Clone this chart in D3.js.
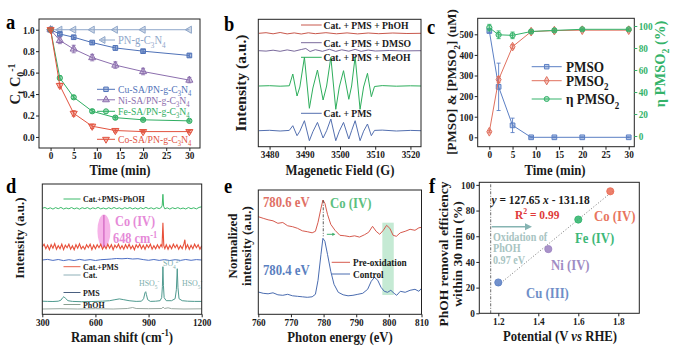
<!DOCTYPE html>
<html><head><meta charset="utf-8">
<script src="https://cdn.jsdelivr.net/npm/d3@7"></script>
<style>body{margin:0;background:#fff}svg{display:block}
svg text{font-family:"Liberation Serif","Times New Roman",Times,serif !important;}</style>
</head><body><svg id="c" width="674" height="355"></svg>
<script>
// ---------------- DATA ----------------
// (a) degradation kinetics
const timeA = [0, 2, 5, 9, 14, 20, 30];
const pnC3N4 = [1.00, 1.00, 1.00, 1.00, 1.00, 1.00, 1.00];
const cuSA = [1.00, 0.96, 0.93, 0.88, 0.83, 0.80, 0.76];
const cuErr = [0.01, 0.015, 0.015, 0.015, 0.02, 0.015, 0.015];
const niSA = [1.00, 0.90, 0.82, 0.74, 0.67, 0.61, 0.53];
const niErr = [0.01, 0.03, 0.035, 0.03, 0.03, 0.03, 0.025];
const feSA = [1.00, 0.55, 0.37, 0.24, 0.18, 0.16, 0.15];
const feErr = [0.01, 0.02, 0.015, 0.015, 0.015, 0.01, 0.01];
const coSA = [1.00, 0.48, 0.22, 0.10, 0.06, 0.05, 0.05];
const coErr = [0.01, 0.02, 0.025, 0.02, 0.015, 0.01, 0.01];
const ticksA_x = [0, 5, 10, 15, 20, 25, 30];
const ticksA_y = [0.0, 0.2, 0.4, 0.6, 0.8, 1.0];

// (b) EPR spectra [field G, relative intensity]
const eprPhOH = [[3477,0],[3479,0.6],[3481,-0.5],[3483,0.8],[3485,-0.6],[3487,0.4],[3489,-0.7],[3491,0.5],[3493,-0.4],[3496,0.6],[3499,-0.5],[3502,0.4],[3505,-0.6],[3508,0.3],[3511,-0.4],[3515,0.3],[3519,-0.2],[3523,0]];
const eprDMSO = [[3477,0],[3479,-0.4],[3481,0.5],[3483,-0.6],[3485,0.8],[3487,-0.5],[3489,1.2],[3490.3,2.2],[3491.5,-0.8],[3493,1],[3495,-0.6],[3497,1.4],[3498.8,-0.7],[3500.5,0.9],[3502.5,-0.5],[3504.3,1.3],[3506,-0.6],[3508,0.6],[3510,-0.3],[3514,0.2],[3518,-0.2],[3523,0]];
const eprMeOH = [[3477,0],[3480,0.3],[3483,-0.2],[3485.6,0.2],[3486.6,12],[3487.8,-10],[3488.6,-1],[3489.9,28.7],[3491.3,-22.3],[3492.3,-2],[3493.6,16],[3495.2,-14],[3496.2,0],[3497.4,28.7],[3498.8,-23.3],[3499.8,-1],[3501.0,15.3],[3502.5,-13.3],[3503.3,0],[3504.3,29.3],[3505.7,-23.3],[3506.7,-1],[3507.8,12.7],[3508.9,-10.7],[3509.8,-0.5],[3512,0.4],[3516,-0.2],[3520,0.2],[3523,0]];
const eprCatPMS = [[3477,0],[3480,0.4],[3483,-0.3],[3485.6,0.3],[3486.6,5],[3487.8,-5],[3488.6,-0.5],[3489.9,10],[3491.3,-10],[3492.3,-1],[3493.6,8.3],[3495.2,-7.3],[3496.2,0],[3497.4,11.7],[3498.8,-10],[3499.8,-0.5],[3501.0,8.3],[3502.5,-8.3],[3503.3,0],[3504.3,10],[3505.7,-10],[3506.7,-0.5],[3507.8,6.7],[3508.9,-5],[3509.8,0.3],[3512,0.6],[3516,-0.3],[3520,0.3],[3523,0]];
const ticksB_x = [3480, 3490, 3500, 3510, 3520];

// (c) PMSO oxidation
const timeC = [0, 2, 5, 9, 14, 20, 30];
const pmso = [516, 245, 58, 0, 0, 0, 0];
const pmsoErr = [8, 115, 35, 3, 2, 2, 2];
const pmso2 = [27, 280, 440, 513, 518, 520, 520];
const pmso2Err = [5, 15, 10, 5, 4, 4, 4];
const etaPmso2 = [98.5, 92, 91.5, 95, 96, 97, 97];
const etaErr = [3, 3.5, 3, 1.5, 1.5, 1, 1];
const ticksC_x = [0, 5, 10, 15, 20, 25, 30];
const ticksC_yL = [0, 100, 200, 300, 400, 500];
const ticksC_yR = [0, 20, 40, 60, 80, 100];

// (d) Raman spectra [shift cm-1, relative intensity]
const ramanPhOHrun = [[300,0],[315,0.8],[330,-0.6],[345,0.5],[360,-0.8],[375,0.7],[390,-0.4],[405,0.9],[420,-0.7],[435,0.3],[450,-0.5],[465,0.8],[480,-0.6],[495,0.4],[510,-0.9],[525,0.6],[540,-0.3],[555,0.7],[570,-0.8],[585,0.5],[600,-0.4],[615,0.9],[630,-0.6],[645,0.3],[660,-0.7],[675,0.6],[690,-0.5],[705,0.8],[720,-0.4],[735,0.5],[750,-0.8],[765,0.6],[780,-0.3],[795,0.7],[810,-0.6],[825,0.4],[840,-0.8],[855,0.6],[870,-0.5],[885,0.9],[900,-0.4],[915,0.5],[930,-0.7],[945,0.6],[960,-0.3],[972,0.8],[977,3],[981,14],[985,2],[992,-0.6],[1005,0.5],[1020,-0.8],[1035,0.6],[1050,-0.4],[1065,0.7],[1080,-0.5],[1095,0.3],[1110,-0.7],[1125,0.8],[1140,-0.4],[1155,0.5],[1170,-0.6],[1185,0.9],[1200,1.5]];
const ramanCatPMS = [[300,0],[310,2.5],[320,-2],[330,1.5],[340,-3],[350,2],[360,-1.5],[370,3],[380,-2.5],[390,1],[400,-2],[410,2.5],[420,-3],[430,1.5],[440,-1],[450,2.5],[460,-2.5],[470,1],[480,-3],[490,2],[500,-1.5],[510,3],[520,-2],[530,0.5],[540,-2.5],[550,2],[560,-1],[570,2.5],[580,-3],[590,1.5],[600,-2],[610,2],[620,-1],[630,2.5],[640,-2.5],[650,1],[660,-2],[670,2.5],[680,-1.5],[690,2],[700,-3],[710,1.5],[720,-1],[730,2.5],[740,-2],[750,1],[760,-2.5],[770,2],[780,-1.5],[790,2.5],[800,-2],[810,1],[820,-3],[830,2],[840,-1],[850,2.5],[860,-2],[870,1.5],[880,-2.5],[890,2],[900,-1],[910,2.5],[920,-2.5],[930,1],[940,-2],[950,2],[960,-1.5],[970,2],[976,0],[981,24],[986,1],[992,-2],[1000,2],[1010,-2.5],[1020,1.5],[1030,-2],[1040,2.5],[1050,-1],[1060,2],[1070,-2.5],[1080,1],[1090,-2],[1100,3],[1105,7],[1110,-2],[1120,2],[1130,-2.5],[1140,1.5],[1150,-2],[1160,2.5],[1170,-1],[1180,2],[1190,-2.5],[1200,1]];
const ramanCat = [[300,0],[330,0.6],[360,-0.4],[390,0.5],[420,-0.6],[450,0.3],[480,-0.5],[510,0.6],[540,-0.3],[570,0.4],[600,-0.5],[630,0.3],[660,0.6],[690,1],[720,1.5],[750,1.2],[780,1.6],[810,1],[840,1.3],[870,0.4],[900,-0.3],[930,0.5],[960,-0.4],[990,0.4],[1020,-0.5],[1050,0.3],[1080,-0.4],[1110,0.5],[1140,-0.3],[1170,0.4],[1200,0]];
const ramanPMS = [[300,0.5],[330,0.3],[360,0.2],[390,0.5],[405,1.5],[415,4],[422,5],[430,3.5],[445,1],[470,0.3],[520,0],[580,0.2],[640,0.5],[680,1],[710,2],[735,2.8],[760,2],[790,1],[830,0.3],[860,0.5],[872,3],[880,9],[884,10],[888,7],[895,2],[910,0.3],[940,0.5],[965,1],[974,4],[978,15],[981,35],[984,16],[988,4],[1000,1],[1030,1],[1050,3],[1057,12],[1062,33],[1066,14],[1072,3],[1090,1],[1120,0.5],[1160,0.3],[1200,0.3]];
const ramanPhOH = [[300,0],[400,0.3],[500,0],[600,0.3],[700,0],[780,0.5],[810,1.5],[830,0.5],[900,0.3],[975,0.5],[982,2],[990,0.5],[1010,1.2],[1030,0.3],[1100,0],[1200,0.2]];
const ticksD_x = [300, 600, 900, 1200];

// (e) XAS L-edge [photon energy eV, normalized intensity]
const xasPre = [[760,97.6],[761.5,96],[763,94.5],[764.5,93.5],[766,91],[767.5,91.8],[769,88.5],[770.5,87.6],[772,86],[773.5,83.5],[775,82.6],[776.5,81.5],[777.5,83],[778.3,92],[779.2,106],[779.8,114.3],[780.4,111],[781.2,100],[782.2,90],[783.5,84],[785,79],[786.5,78.5],[788,77.6],[789.5,78.5],[791,77.2],[792.5,79.5],[793.8,82],[795,88],[796.1,83],[797.2,80],[798.3,84],[799.3,89],[800.3,86],[801.3,79],[802.3,78],[803.5,81.5],[805,83],[806.5,85],[808,84],[809.2,86.5],[810,87]];
const xasControl = [[760,22.3],[761.5,21],[763,20.5],[764.5,21.5],[766,19.5],[767.5,19],[769,20],[770.5,18.5],[772,18],[773.5,17.5],[775,17],[776.5,17.5],[777.5,20],[778.3,34],[779.2,60],[779.8,76],[780.4,73],[781.2,60],[782.2,43],[783.2,30],[784.5,22],[786,19.5],[787.5,18.5],[789,19],[790.5,20],[792,21],[793.5,25],[794.6,33],[795.6,37],[796.6,34],[797.6,27],[798.6,23],[799.6,22],[800.6,24],[801.6,21],[802.4,19],[803.5,23],[805,22],[806.5,24],[808,25],[809.2,23],[810,26]];
const ticksE_x = [760, 770, 780, 790, 800, 810];

// (f) removal efficiency vs potential
const metalLabels = ["Cu (III)", "Ni (IV)", "Fe (IV)", "Co (IV)"];
const potential = [1.20, 1.45, 1.60, 1.76];
const removal = [24, 50, 73, 95];
const fitSlope = 127.65, fitIntercept = -131.18;
const phohOxPotential = 1.162;
const ticksF_x = [1.2, 1.4, 1.6, 1.8];
const ticksF_y = [0, 20, 40, 60, 80, 100];

// ---------------- HELPERS ----------------
const FONT = '"Liberation Serif","Times New Roman",Times,serif';
const SX = 0.88; // horizontal squeeze of the reference lettering
const svg = d3.select("#c");
const INK = "#1a1a1a";

function rich(g, x, y, segs, o = {}) {
  const size = o.size || 12;
  const t = g.append("text").attr("x", 0).attr("y", 0)
    .style("font-family", FONT).attr("font-size", size)
    .attr("font-weight", o.weight || "bold")
    .attr("fill", o.color || INK).attr("text-anchor", o.anchor || "start");
  if (o.rotate) t.attr("transform", `translate(${x},${y}) rotate(${o.rotate})`);
  else t.attr("transform", `translate(${x},${y}) scale(${o.sx || SX},1)`);
  let shift = 0;
  segs.forEach(s => {
    const [str, kind, st] = typeof s === "string" ? [s, "", ""] : s;
    const target = kind === "sub" ? size * 0.3 : kind === "sup" ? -size * 0.38 : 0;
    const ts = t.append("tspan").text(str);
    if (target - shift !== 0) ts.attr("dy", target - shift);
    if (kind) ts.attr("font-size", size * 0.68);
    if (st) ts.attr("font-style", st);
    shift = target;
  });
  return t;
}

function frame(P) {
  svg.append("rect").attr("x", P.l).attr("y", P.t).attr("width", P.r - P.l).attr("height", P.b - P.t)
    .attr("fill", "none").attr("stroke", "#222").attr("stroke-width", 1);
}
function styleAxis(ax, color) {
  ax.attr("font-family", null);
  ax.select(".domain").remove();
  ax.selectAll("line").attr("stroke", color || "#222");
  ax.selectAll("text").style("font-family", FONT).attr("font-weight", "bold")
    .attr("font-size", 10.5).attr("fill", color || INK).attr("transform", `scale(${SX},1)`);
}
function xAxis(P, x, ticks, fmt) {
  const ax = svg.append("g").attr("transform", `translate(0,${P.b})`)
    .call(d3.axisBottom(x).tickValues(ticks).tickFormat(fmt || d3.format("")).tickSize(3).tickPadding(1));
  styleAxis(ax);
}
function yAxis(P, y, ticks, fmt) {
  const ax = svg.append("g").attr("transform", `translate(${P.l},0)`)
    .call(d3.axisLeft(y).tickValues(ticks).tickFormat(fmt || d3.format("")).tickSize(3).tickPadding(2));
  styleAxis(ax);
}
function letter(x, y, s) {
  rich(svg, x, y, [s], {size: 21, color: "#000"});
}
function marker(g, cx, cy, type, color, size, rot) {
  g.append("path").attr("d", d3.symbol().type(type).size(size || 22)())
    .attr("transform", `translate(${cx},${cy}) rotate(${rot || 0})`)
    .attr("fill", color).attr("fill-opacity", 0.4).attr("stroke", color).attr("stroke-width", 1);
}
function errBar(g, x, y1, y2, color) {
  g.append("line").attr("x1", x).attr("x2", x).attr("y1", y1).attr("y2", y2).attr("stroke", color).attr("stroke-width", 0.9);
  [y1, y2].forEach(yy => g.append("line").attr("x1", x - 2).attr("x2", x + 2).attr("y1", yy).attr("y2", yy).attr("stroke", color).attr("stroke-width", 0.9));
}

// ---------------- PANEL A ----------------
{
  const P = {l: 39, r: 200, t: 19, b: 148};
  const x = d3.scaleLinear().domain([-2.5, 32.3]).range([P.l, P.r]);
  const y = d3.scaleLinear().domain([-0.103, 1.10]).range([P.b, P.t]);
  const g = svg.append("g");
  const series = [
    {v: pnC3N4, e: null, c: "#8ea6c9", sym: d3.symbolTriangle, rot: -90},
    {v: cuSA, e: cuErr, c: "#4f72b8", sym: d3.symbolSquare, rot: 0},
    {v: niSA, e: niErr, c: "#8c6fae", sym: d3.symbolTriangle, rot: 0},
    {v: feSA, e: feErr, c: "#2fae62", sym: d3.symbolCircle, rot: 0},
    {v: coSA, e: coErr, c: "#e2533f", sym: d3.symbolTriangle, rot: 180}
  ];
  const line = d3.line().x((d, i) => x(timeA[i])).y(d => y(d));
  series.forEach(s => {
    g.append("path").attr("d", line(s.v)).attr("fill", "none").attr("stroke", s.c).attr("stroke-width", 1);
    if (s.e) s.v.forEach((d, i) => errBar(g, x(timeA[i]), y(d + s.e[i]), y(d - s.e[i]), s.c));
    s.v.forEach((d, i) => marker(g, x(timeA[i]), y(d), s.sym, s.c, 22, s.rot));
  });
  frame(P);
  xAxis(P, x, ticksA_x);
  yAxis(P, y, ticksA_y, d3.format(".1f"));
  const pc = series[0].c;
  g.append("line").attr("x1", 101).attr("x2", 115).attr("y1", 40).attr("y2", 40).attr("stroke", pc).attr("stroke-width", 1);
  marker(g, 103, 40, d3.symbolTriangle, pc, 20, -90);
  rich(g, 118, 44, ["PN-g-C", ["3", "sub"], "N", ["4", "sub"]], {size: 12, weight: "normal", color: pc});
  const leg = [
    [1, 89.3, "Cu-SA/PN-g-C"], [2, 99.8, "Ni-SA/PN-g-C"], [3, 111.3, "Fe-SA/PN-g-C"], [4, 139.3, "Co-SA/PN-g-C"]
  ];
  leg.forEach(([k, yy, t]) => {
    const s = series[k];
    g.append("line").attr("x1", 97).attr("x2", 115).attr("y1", yy).attr("y2", yy).attr("stroke", s.c).attr("stroke-width", 1);
    marker(g, 106, yy, s.sym, s.c, 20, s.rot);
    rich(g, 118, yy + 3.8, [t, ["3", "sub"], "N", ["4", "sub"]], {size: 11, weight: "normal", color: s.c});
  });
  rich(svg, 120, 174.5, ["Time (min)"], {size: 14.5, anchor: "middle"});
  rich(svg, 20, 84, ["C", ["t", "sub"], " C", ["0", "sub"], ["-1", "sup"]], {size: 14.5, anchor: "middle", rotate: -90});
  letter(6, 29, "a");
}

// ---------------- PANEL B ----------------
{
  const P = {l: 258.3, r: 421, t: 19.3, b: 146.7};
  const x = d3.scaleLinear().domain([3476.8, 3523]).range([P.l, P.r]);
  const y = d3.scaleLinear().domain([0, P.b - P.t]).range([P.b, P.t]);
  const g = svg.append("g");
  const specs = [
    {d: eprPhOH, off: 113.4, c: "#c8584c", name: "Cat. + PMS + PhOH", ly: 25},
    {d: eprDMSO, off: 96, c: "#7a6a9c", name: "Cat. + PMS + DMSO", ly: 42.7},
    {d: eprMeOH, off: 60.7, c: "#2eae5c", name: "Cat. + PMS + MeOH", ly: 57.3},
    {d: eprCatPMS, off: 16, c: "#5470b0", name: "Cat. + PMS", ly: 113.3}
  ];
  specs.forEach(s => {
    const line = d3.line().x(d => x(d[0])).y(d => y(d[1] + s.off));
    g.append("path").attr("d", line(s.d)).attr("fill", "none").attr("stroke", s.c).attr("stroke-width", 1);
    g.append("line").attr("x1", 301).attr("x2", 321.7).attr("y1", s.ly).attr("y2", s.ly).attr("stroke", s.c).attr("stroke-width", 1);
    rich(g, 323.5, s.ly + 4, [s.name], {size: 11});
  });
  frame(P);
  xAxis(P, x, ticksB_x);
  rich(svg, 340, 174.5, ["Magenetic Field (G)"], {size: 14.5, anchor: "middle"});
  rich(svg, 246, 83, ["Intensity (a.u.)"], {size: 15.5, anchor: "middle", rotate: -90});
  letter(224, 31, "b");
}

// ---------------- PANEL C ----------------
{
  const P = {l: 477.7, r: 634.3, t: 18.3, b: 146.7};
  const x = d3.scaleLinear().domain([-2.5, 31.2]).range([P.l, P.r]);
  const yL = d3.scaleLinear().domain([-45.6, 577.7]).range([P.b, P.t]);
  const yR = d3.scaleLinear().domain([-9.7, 107]).range([P.b, P.t]);
  const g = svg.append("g");
  const cB = "#5b7fc4", cR = "#e0705e", cG = "#34b36a";
  const series = [
    {v: pmso, e: pmsoErr, y: yL, c: cB, sym: d3.symbolSquare, rot: 0},
    {v: pmso2, e: pmso2Err, y: yL, c: cR, sym: d3.symbolDiamond, rot: 0},
    {v: etaPmso2, e: etaErr, y: yR, c: cG, sym: d3.symbolCircle, rot: 0}
  ];
  series.forEach(s => {
    const line = d3.line().x((d, i) => x(timeC[i])).y(d => s.y(d));
    g.append("path").attr("d", line(s.v)).attr("fill", "none").attr("stroke", s.c).attr("stroke-width", 1);
    s.v.forEach((d, i) => errBar(g, x(timeC[i]), s.y(d + s.e[i]), s.y(d - s.e[i]), s.c));
    s.v.forEach((d, i) => marker(g, x(timeC[i]), s.y(d), s.sym, s.c, 22, s.rot));
  });
  frame(P);
  xAxis(P, x, ticksC_x);
  yAxis(P, yL, ticksC_yL);
  const axR = svg.append("g").attr("transform", `translate(${P.r},0)`)
    .call(d3.axisRight(yR).tickValues(ticksC_yR).tickSize(3).tickPadding(2));
  styleAxis(axR, cG);
  const leg = [[0, 66.7, ["PMSO"]], [1, 80.7, ["PMSO", ["2", "sub"]]], [2, 99, ["η PMSO", ["2", "sub"]]]];
  leg.forEach(([k, yy, segs]) => {
    const s = series[k];
    g.append("line").attr("x1", 531.7).attr("x2", 561.7).attr("y1", yy).attr("y2", yy).attr("stroke", s.c).attr("stroke-width", 1);
    marker(g, 546.7, yy, s.sym, s.c, 20, s.rot);
    rich(g, 566, yy + 5, segs, {size: 15});
  });
  rich(svg, 555, 174.5, ["Time (min)"], {size: 14.5, anchor: "middle"});
  rich(svg, 456, 82, ["[PMSO] & [PMSO", ["2", "sub"], "] (uM)"], {size: 13, anchor: "middle", rotate: -90});
  rich(svg, 665, 64, ["η PMSO", ["2", "sub"], " (%)"], {size: 14.5, anchor: "middle", rotate: -90, color: cG});
  letter(427, 34, "c");
}

// ---------------- PANEL D ----------------
{
  const P = {l: 42.3, r: 201.7, t: 184, b: 314.3};
  const x = d3.scaleLinear().domain([300, 1200]).range([P.l, P.r]);
  const y = d3.scaleLinear().domain([0, P.b - P.t]).range([P.b, P.t]);
  const g = svg.append("g");
  g.append("ellipse").attr("cx", x(648)).attr("cy", 231).attr("rx", 6.5).attr("ry", 16.5).attr("fill", "#f4a6e4").attr("opacity", 0.85);
  const specs = [
    {d: ramanPhOHrun, off: 106, c: "#3dbb6a", w: 1},
    {d: ramanCatPMS, off: 67.6, c: "#e8503a", w: 1.1},
    {d: ramanCat, off: 54.3, c: "#4d6fc4", w: 1},
    {d: ramanPMS, off: 12.6, c: "#4f9a8f", w: 1},
    {d: ramanPhOH, off: 5.3, c: "#9aa8a0", w: 1}
  ];
  specs.forEach(s => {
    const line = d3.line().x(d => x(d[0])).y(d => y(d[1] + s.off));
    g.append("path").attr("d", line(s.d)).attr("fill", "none").attr("stroke", s.c).attr("stroke-width", s.w);
  });
  g.append("line").attr("x1", x(648)).attr("x2", x(648)).attr("y1", 215).attr("y2", 247).attr("stroke", "#c850b8").attr("stroke-width", 1);
  rich(g, 115, 226, ["Co (IV)"], {size: 14, color: "#e68ad8"});
  rich(g, 113, 243, ["648 cm", ["-1", "sup"]], {size: 14, color: "#e68ad8"});
  const leg = [
    ["Cat.+PMS+PhOH", 199, "#3dbb6a"], ["Cat.+PMS", 266.7, "#e8604a"], ["Cat.", 275, "#8fb0b8"],
    ["PMS", 292.5, "#4a6080"], ["PhOH", 304.5, "#8aa090"]
  ];
  leg.forEach(([t, yy, c]) => {
    g.append("line").attr("x1", 63.5).attr("x2", 80.5).attr("y1", yy).attr("y2", yy).attr("stroke", c).attr("stroke-width", 1);
    rich(g, 83, yy + 3.3, [t], {size: 9});
  });
  const tc = "#7fb0ae";
  rich(g, 139, 286, ["HSO", ["5", "sub"], ["-", "sup"]], {size: 9, color: tc, weight: "normal"});
  rich(g, 163, 266, ["SO", ["4", "sub"], ["2-", "sup"]], {size: 9, color: tc, weight: "normal"});
  rich(g, 182, 286, ["HSO", ["5", "sub"], ["-", "sup"]], {size: 9, color: tc, weight: "normal"});
  frame(P);
  xAxis(P, x, ticksD_x);
  rich(svg, 122, 342, ["Raman shift (cm", ["-1", "sup"], ")"], {size: 14.5, anchor: "middle"});
  rich(svg, 24, 238, ["Intensity (a.u.)"], {size: 13, anchor: "middle", rotate: -90});
  letter(6, 193, "d");
}

// ---------------- PANEL E ----------------
{
  const P = {l: 258.3, r: 421.5, t: 190, b: 314.3};
  const x = d3.scaleLinear().domain([760, 810]).range([P.l, P.r]);
  const y = d3.scaleLinear().domain([0, P.b - P.t]).range([P.b, P.t]);
  const g = svg.append("g");
  g.append("rect").attr("x", x(798)).attr("width", x(801.5) - x(798)).attr("y", y(91.6)).attr("height", y(19.3) - y(91.6))
    .attr("fill", "#bfe8cf").attr("opacity", 0.9);
  const cR = "#d65a4e", cB = "#4a6cb0";
  [[xasPre, cR], [xasControl, cB]].forEach(([d, c]) => {
    const line = d3.line().x(p => x(p[0])).y(p => y(p[1]));
    g.append("path").attr("d", line(d)).attr("fill", "none").attr("stroke", c).attr("stroke-width", 1);
  });
  g.append("line").attr("x1", x(779.9)).attr("x2", x(779.9)).attr("y1", y(114)).attr("y2", y(78))
    .attr("stroke", "#333").attr("stroke-width", 0.8).attr("stroke-dasharray", "3,1.5,1,1.5");
  g.append("line").attr("x1", x(781)).attr("x2", x(783.3)).attr("y1", y(80)).attr("y2", y(80)).attr("stroke", "#3cae6a").attr("stroke-width", 1);
  g.append("path").attr("d", `M${x(783.6)},${y(80)} l-3,-1.6 l0,3.2 z`).attr("fill", "#3cae6a");
  rich(g, 263, 207, ["780.6 eV"], {size: 14.5, color: "#e07065"});
  rich(g, 330, 208, ["Co (IV)"], {size: 14.5, color: "#5cc080"});
  rich(g, 263, 275, ["780.4 eV"], {size: 14.5, color: "#5a80c0"});
  [["Pre-oxidation", 262.3, cR], ["Control", 274, cB]].forEach(([t, yy, c]) => {
    g.append("line").attr("x1", 331.7).attr("x2", 350).attr("y1", yy).attr("y2", yy).attr("stroke", c).attr("stroke-width", 1);
    rich(g, 353, yy + 3.5, [t], {size: 10.5});
  });
  frame(P);
  xAxis(P, x, ticksE_x);
  rich(svg, 340, 342, ["Photon energy (eV)"], {size: 14.5, anchor: "middle"});
  rich(svg, 237, 246, ["Normalized"], {size: 13, anchor: "middle", rotate: -90});
  rich(svg, 251, 246, ["intensity (a.u.)"], {size: 13, anchor: "middle", rotate: -90});
  letter(224, 193, "e");
}

// ---------------- PANEL F ----------------
{
  const P = {l: 479.3, r: 639.3, t: 182.3, b: 313.3};
  const x = d3.scaleLinear().domain([1.105, 1.905]).range([P.l, P.r]);
  const y = d3.scaleLinear().domain([0, 102]).range([P.b, P.t]);
  const g = svg.append("g");
  const cols = ["#5b7fc4", "#9a80c0", "#2db36a", "#ea6a52"];
  const labCols = ["#6f8fc8", "#a08cc4", "#3cb878", "#e8755e"];
  g.append("line").attr("x1", x(phohOxPotential)).attr("x2", x(phohOxPotential)).attr("y1", P.b).attr("y2", P.t)
    .attr("stroke", "#444").attr("stroke-width", 0.8).attr("stroke-dasharray", "3,1.5,1,1.5");
  const fx = [1.2, 1.78];
  g.append("line").attr("x1", x(fx[0])).attr("x2", x(fx[1]))
    .attr("y1", y(fitSlope * fx[0] + fitIntercept)).attr("y2", y(fitSlope * fx[1] + fitIntercept))
    .attr("stroke", "#777").attr("stroke-width", 1).attr("stroke-dasharray", "1,2");
  potential.forEach((p, i) => {
    g.append("circle").attr("cx", x(p)).attr("cy", y(removal[i])).attr("r", 3.6)
      .attr("fill", cols[i]).attr("fill-opacity", 0.85).attr("stroke", cols[i]).attr("stroke-width", 0.8);
  });
  g.append("line").attr("x1", 491.7).attr("x2", 526).attr("y1", 226.7).attr("y2", 226.7).attr("stroke", "#86b4b2").attr("stroke-width", 1.6);
  g.append("path").attr("d", "M532,226.7 l-7,-3.5 l0,7 z").attr("fill", "#86b4b2");
  const tc = "#a8c4c2";
  rich(g, 493, 240.5, ["Oxidation of"], {size: 11.5, color: tc});
  rich(g, 493, 252, ["PhOH"], {size: 11.5, color: tc});
  rich(g, 493, 263.5, ["0.97 eV"], {size: 11.5, color: tc});
  rich(g, 491.5, 204, [["y", "", "italic"], " = 127.65 ", ["x", "", "italic"], " - 131.18"], {size: 13});
  rich(g, 515, 218.5, ["R", ["2", "sup"], " = 0.99"], {size: 13, color: "#e03a3a"});
  const lp = [[526, 298], [551, 270], [575, 243], [594, 221]];
  metalLabels.forEach((t, i) => rich(g, lp[i][0], lp[i][1], [t], {size: 14.5, color: labCols[i]}));
  frame(P);
  xAxis(P, x, ticksF_x, d3.format(".1f"));
  yAxis(P, y, ticksF_y);
  rich(svg, 560, 341, ["Potential (V ", ["vs", "", "italic"], " RHE)"], {size: 14.5, anchor: "middle"});
  rich(svg, 448, 254, ["PhOH removal efficiency"], {size: 13.5, anchor: "middle", rotate: -90});
  rich(svg, 462, 254, ["within 30 min (%)"], {size: 13.5, anchor: "middle", rotate: -90});
  letter(429, 193, "f");
}
</script></body></html>
